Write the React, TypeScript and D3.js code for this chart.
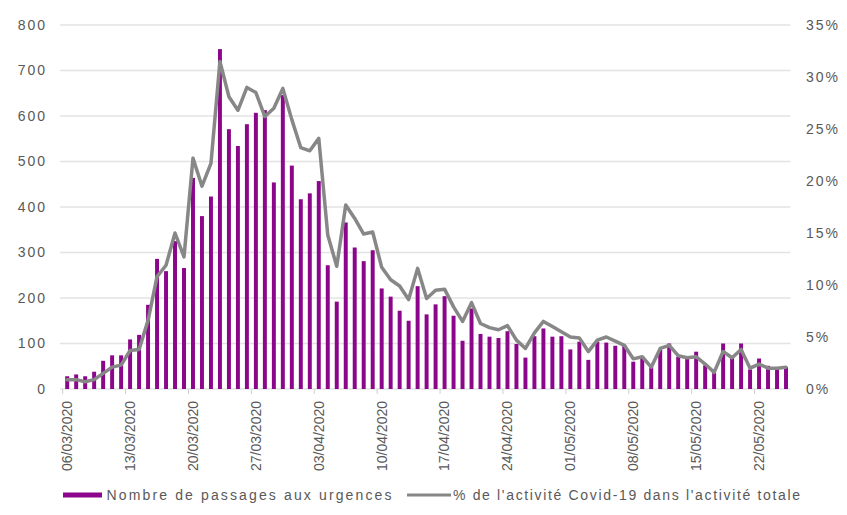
import React from 'react'
import * as d3 from 'd3'

// daily dates 06/03/2020 -> 25/05/2020
const dates: Date[] = d3.timeDay.range(new Date(2020, 2, 6), new Date(2020, 4, 26))

const passages: number[] = [
  28, 32, 28, 38, 62, 74, 74, 109, 119, 185,
  286, 259, 325, 266, 464, 380, 423, 747, 571, 534,
  582, 607, 613, 454, 646, 491, 417, 430, 457, 272,
  192, 366, 311, 281, 305, 221, 203, 172, 150, 226,
  164, 186, 204, 161, 106, 177, 121, 115, 112, 127,
  99, 69, 116, 133, 115, 116, 87, 104, 64, 104,
  102, 95, 97, 60, 71, 48, 86, 100, 71, 70,
  82, 52, 36, 100, 73, 100, 43, 67, 51, 45,
  48,
]

const pctCovid: number[] = [
  0.9, 0.9, 0.7, 0.9, 1.5, 2.1, 2.3, 3.7, 3.8, 6.6,
  10.8, 11.9, 15.0, 12.7, 22.2, 19.5, 21.7, 31.5, 28.1, 26.8,
  29.0, 28.5, 26.2, 27.0, 28.9, 25.9, 23.2, 22.9, 24.1, 14.8,
  11.8, 17.7, 16.4, 14.9, 15.1, 11.7, 10.5, 9.9, 8.6, 11.6,
  8.7, 9.5, 9.6, 7.9, 6.5, 8.3, 6.3, 5.9, 5.7, 6.1,
  4.7, 3.9, 5.4, 6.5, 6.0, 5.5, 5.0, 4.9, 3.6, 4.7,
  5.0, 4.6, 4.2, 2.9, 3.1, 2.1, 3.9, 4.2, 3.2, 3.0,
  3.1, 2.4, 1.6, 3.6, 3.0, 3.8, 2.0, 2.4, 2.0, 2.0,
  2.1,
]

const leftTicks = [0, 100, 200, 300, 400, 500, 600, 700, 800]
const rightTicks = [0, 5, 10, 15, 20, 25, 30, 35]

const legendLabels = [
  'Nombre de passages aux urgences',
  "% de l'activité Covid-19 dans l'activité totale",
]

const W = 847
const H = 515
const FONT = '"Liberation Sans", Arial, sans-serif'
const TEXT = '#595959'
const BAR = '#8b068b'
const LINE = '#878787'

export default function App() {
  const plotLeft = 62.7
  const plotRight = 790.5
  const top = 25
  const bottom = 389

  const x = d3.scaleBand<number>()
    .domain(d3.range(dates.length))
    .range([plotLeft, plotRight])
    .paddingInner(0.56)
    .paddingOuter(0.28)

  const step = x.step()
  const yL = d3.scaleLinear().domain([0, 800]).range([bottom, top])
  const yR = d3.scaleLinear().domain([0, 35]).range([bottom, top])

  const line = d3.line<number>()
    .x((_, i) => (x(i) ?? 0) + x.bandwidth() / 2)
    .y(d => yR(d))

  const fmt = d3.timeFormat('%d/%m/%Y')
  const tickIdx = d3.range(0, dates.length, 7)

  return (
    <svg
      width={W}
      height={H}
      style={{ position: 'absolute', left: 0, top: 0, background: '#fff' }}
      fontFamily={FONT}
    >
      {/* grid */}
      {leftTicks.map(t => (
        <line key={'g' + t} x1={60} x2={plotRight} y1={yL(t)} y2={yL(t)}
          stroke="#e3e3e3" strokeWidth={1.5} />
      ))}
      {/* x tick marks */}
      {tickIdx.map(i => (
        <line key={'t' + i} x1={plotLeft + i * step} x2={plotLeft + i * step}
          y1={bottom} y2={bottom + 5} stroke="#d0d0d0" strokeWidth={1} />
      ))}

      {/* bars */}
      {passages.map((v, i) => (
        <rect key={'b' + i} x={x(i)} y={yL(v)} width={x.bandwidth()}
          height={bottom - yL(v)} fill={BAR} />
      ))}

      {/* line */}
      <path d={line(pctCovid) ?? ''} fill="none" stroke={LINE} strokeWidth={3.5}
        strokeLinejoin="round" strokeLinecap="round" />

      {/* left axis */}
      {leftTicks.map(t => (
        <text key={'l' + t} x={47} y={yL(t)} dy="0.35em" textAnchor="end"
          fontSize={14} letterSpacing={2} fill={TEXT}>{t}</text>
      ))}
      {/* right axis */}
      {rightTicks.map(t => (
        <text key={'r' + t} x={806} y={yR(t)} dy="0.35em" textAnchor="start"
          fontSize={14} letterSpacing={2} fill={TEXT}>{t}%</text>
      ))}

      {/* x labels */}
      {tickIdx.map(i => {
        const cx = (x(i) ?? 0) + x.bandwidth() / 2
        return (
          <text key={'x' + i} transform={`translate(${cx},401) rotate(-90)`}
            dy="0.35em" textAnchor="end" fontSize={14} fill={TEXT}>
            {fmt(dates[i])}
          </text>
        )
      })}

      {/* legend */}
      <rect x={63} y={492.5} width={39} height={5} fill={BAR} />
      <text x={106.5} y={495} dy="0.35em" fontSize={14} fill={TEXT}
        textLength={285} lengthAdjust="spacing">{legendLabels[0]}</text>
      <line x1={407} x2={451} y1={495} y2={495} stroke={LINE} strokeWidth={3} />
      <text x={453} y={495} dy="0.35em" fontSize={14} fill={TEXT}
        textLength={347} lengthAdjust="spacing">{legendLabels[1]}</text>
    </svg>
  )
}
